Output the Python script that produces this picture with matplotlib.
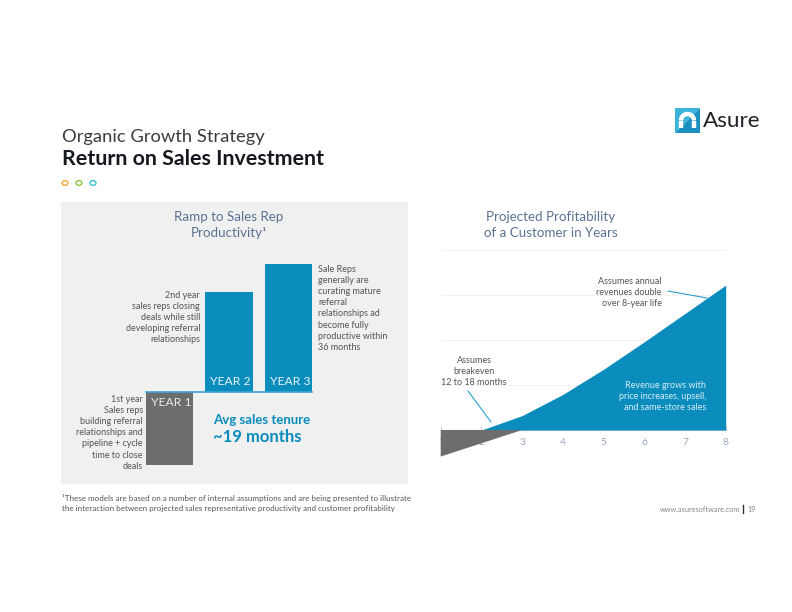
import numpy as np
import matplotlib
matplotlib.use("Agg")
import matplotlib.pyplot as plt
from matplotlib.patches import Rectangle, Polygon, Circle, Arc

plt.rcParams['font.family'] = ['Lato', 'DejaVu Sans']

W, H = 792, 612

# data
ramp_labels = ['YEAR 1', 'YEAR 2', 'YEAR 3']
ramp_values = [-73, 100, 128]

loss_years = [1, 1, 3]
loss_values = [0, -0.59, 0]

profit_years = [2, 3, 4, 5, 6, 7, 8]
profit_values = [0, 0.32, 0.79, 1.35, 1.96, 2.59, 3.22]
x_ticks = [1, 2, 3, 4, 5, 6, 7, 8]

BLUE = '#0a8cbd'
GRAY = '#6d6d6f'
TITLE_C = '#5b7192'
TXT_C = '#555559'


def fx(x):
    return x / W


def fy(y):
    return 1 - y / H


def rect(x0, y0, x1, y1):
    return [fx(x0), fy(y1), (x1 - x0) / W, (y1 - y0) / H]


fig = plt.figure(figsize=(7.92, 6.12), dpi=100)
fig.patch.set_facecolor('white')

# header
fig.text(fx(62), fy(137), 'Organic Growth Strategy', fontsize=13.2, color='#3a3c42',
         va='center')
fig.text(fx(62), fy(159), 'Return on Sales Investment', fontsize=15.4, color='#15191f',
         va='center', fontweight='bold')
for cx, col in zip([65, 79, 93], ['#f5a53a', '#8cc63f', '#3bbfdc']):
    fig.patches.append(Circle((fx(cx), fy(183)), 3.0 / W, transform=fig.transFigure,
                              fill=False, ec=col, lw=1.0))

# logo
lax = fig.add_axes(rect(675, 108, 700, 133))
lax.set_xlim(0, 1)
lax.set_ylim(0, 1)
lax.axis('off')
lax.add_patch(Polygon([[0, 0], [0, 1], [1, 1]], fc='#3cb4da', ec='none'))
lax.add_patch(Polygon([[0, 0], [1, 0], [1, 1]], fc='#1b8fc2', ec='none'))
lax.add_patch(Arc((0.5, 0.5), 0.52, 0.52, theta1=0, theta2=180, ec='white', lw=3.2))
lax.plot([0.24, 0.24], [0.5, 0.2], color='white', lw=3.2, solid_capstyle='butt')
lax.plot([0.76, 0.76], [0.5, 0.2], color='white', lw=3.2, solid_capstyle='butt')
fig.text(fx(703), fy(121), 'Asure', fontsize=16.2, color='#1f2328', va='center')

# left panel background
fig.patches.append(Rectangle((fx(61), fy(484)), (408 - 61) / W, (484 - 202) / H,
                             transform=fig.transFigure, fc='#f0f0f0', ec='none', zorder=-5))
fig.text(fx(229), fy(217), 'Ramp to Sales Rep', fontsize=9.6, color=TITLE_C,
         ha='center', va='center')
fig.text(fx(229), fy(233), 'Productivity\u00b9', fontsize=9.6, color=TITLE_C,
         ha='center', va='center')

# bars axes: x -0.5..2.5 -> px 139.8..318, y -80..135 -> px 472..257
ax = fig.add_axes(rect(139.8, 257, 318, 472))
ax.set_xlim(-0.5, 2.5)
ax.set_ylim(-80, 135)
ax.axis('off')
xpos = np.arange(len(ramp_values))
colors = [GRAY if v < 0 else BLUE for v in ramp_values]
ax.bar(xpos, ramp_values, width=0.8, color=colors)
ax.plot([-0.4, 2.4], [0, 0], color='#3aa6d4', lw=1.2)
for x, v, lab in zip(xpos, ramp_values, ramp_labels):
    ty = -5 if v < 0 else 5
    ax.text(x - 0.31, ty, lab, color='#e8e8e8' if v < 0 else '#e9f5fb', fontsize=8.7,
            ha='left', va='top' if v < 0 else 'bottom')

fig.text(fx(213), fy(420), 'Avg sales tenure', fontsize=9.5, color=BLUE,
         fontweight='bold', va='center')
fig.text(fx(213), fy(437), '~19 months', fontsize=12, color=BLUE,
         fontweight='bold', va='center')

fig.text(fx(200), fy(291), '2nd year\nsales reps closing\ndeals while still\n'
         'developing referral\nrelationships', fontsize=6.5, color=TXT_C, ha='right',
         va='top', linespacing=1.3)
fig.text(fx(318), fy(265), 'Sale Reps\ngenerally are\ncurating mature\nreferral\n'
         'relationships ad\nbecome fully\nproductive within\n36 months', fontsize=6.5,
         color=TXT_C, ha='left', va='top', linespacing=1.3)
fig.text(fx(143), fy(395), '1st year\nSales reps\nbuilding referral\n'
         'relationships and\npipeline + cycle\ntime to close\ndeals', fontsize=6.5,
         color=TXT_C, ha='right', va='top', linespacing=1.3)

# right chart: x 1..8 -> px 440.7..725.7, y -1..4 -> px 475..250
fig.text(fx(551), fy(217), 'Projected Profitability', fontsize=9.6, color=TITLE_C,
         ha='center', va='center')
fig.text(fx(551), fy(233), 'of a Customer in Years', fontsize=9.6, color=TITLE_C,
         ha='center', va='center')

ax2 = fig.add_axes(rect(440.7, 250, 725.7, 475))
ax2.set_xlim(1, 8)
ax2.set_ylim(-1, 4)
ax2.set_facecolor('none')
for s in ['top', 'right', 'left']:
    ax2.spines[s].set_visible(False)
ax2.spines['bottom'].set_position(('data', 0))
ax2.spines['bottom'].set_color('#c9cfd8')
ax2.spines['bottom'].set_linewidth(0.8)
ax2.set_yticks([-1, 0, 1, 2, 3, 4])
ax2.yaxis.grid(True, color='#f2f2f2', lw=0.8)
ax2.tick_params(axis='y', left=False, labelleft=False)
ax2.set_xticks(x_ticks)
ax2.tick_params(axis='x', direction='in', length=3, color='#c9cfd8', labelsize=7.5,
                labelcolor='#9aa8bd', pad=6)
ax2.set_axisbelow(True)
ax2.fill_between(profit_years, 0, profit_values, color=BLUE, lw=0, zorder=3)
ax2.fill(loss_years, loss_values, color=GRAY, lw=0, zorder=4, clip_on=False)

fig.text(fx(474), fy(356), 'Assumes\nbreakeven\n12 to 18 months', fontsize=6.5,
         color=TXT_C, ha='center', va='top', linespacing=1.3)
fig.add_artist(plt.Line2D([fx(468), fx(491)], [fy(391), fy(422)], color='#2a9fd0', lw=0.8))
fig.text(fx(662), fy(277), 'Assumes annual\nrevenues double\nover 8-year life',
         fontsize=6.5, color=TXT_C, ha='right', va='top', linespacing=1.3)
fig.add_artist(plt.Line2D([fx(668), fx(707)], [fy(291), fy(298)], color='#2a9fd0', lw=0.8))
fig.text(fx(706), fy(381), 'Revenue grows with\nprice increases, upsell,\nand same-store sales',
         fontsize=6.5, color='#d6eef8', ha='right', va='top', linespacing=1.3)

# footer
fig.text(fx(62), fy(498), '\u00b9These models are based on a number of internal assumptions '
         'and are being presented to illustrate', fontsize=5.8, color='#555555', va='center')
fig.text(fx(62), fy(509), 'the interaction between projected sales representative '
         'productivity and customer profitability', fontsize=5.8, color='#555555', va='center')
fig.text(fx(740), fy(509), 'www.asuresoftware.com', fontsize=5.3, color='#8a8a8a',
         ha='right', va='center')
fig.add_artist(plt.Line2D([fx(743), fx(743)], [fy(505), fy(513)], color='#333333', lw=1.0))
fig.text(fx(747), fy(509), '19', fontsize=5.3, color='#8a8a8a', ha='left', va='center')

fig.savefig('out.png', dpi=100)
